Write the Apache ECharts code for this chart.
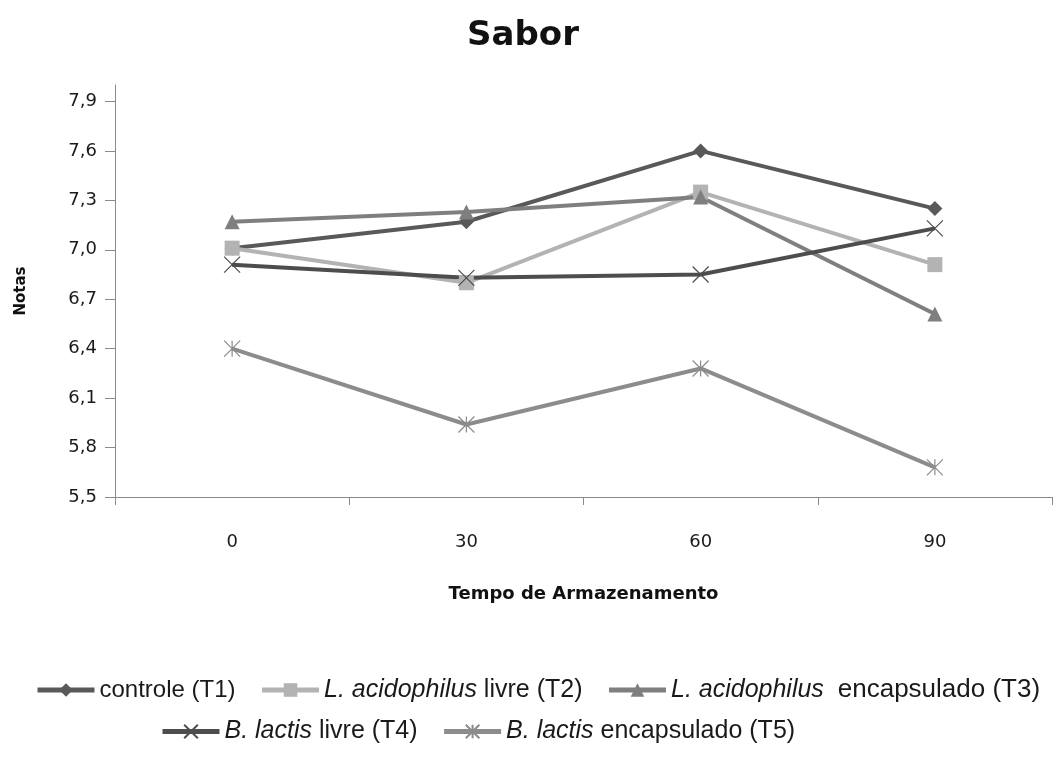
<!DOCTYPE html>
<html>
<head>
<meta charset="utf-8">
<script src="https://cdn.jsdelivr.net/npm/echarts@6/dist/echarts.min.js"></script>
<style>
  html, body { margin: 0; padding: 0; background: #ffffff; }
  #chart { width: 1058px; height: 758px; }
</style>
</head>
<body>
<div id="chart"></div>
<script>
// Storage time (days)
const categories = ['0', '30', '60', '90'];

// Mean flavour scores per treatment
const controleT1 = [7.01, 7.17, 7.60, 7.25];
const acidoLivreT2 = [7.01, 6.80, 7.35, 6.91];
const acidoEncapT3 = [7.17, 7.23, 7.32, 6.61];
const lactisLivreT4 = [6.91, 6.83, 6.85, 7.13];
const lactisEncapT5 = [6.40, 5.94, 6.28, 5.68];

// Y axis tick values
const yTicks = [5.5, 5.8, 6.1, 6.4, 6.7, 7.0, 7.3, 7.6, 7.9];

const seriesNames = ['T1', 'T2', 'T3', 'T4', 'T5'];
const legendText = {
  T1: '{c|controle (T1)}',
  T2: '{i|L. acidophilus} livre (T2)',
  T3: '{i|L. acidophilus}  {w|encapsulado (T3)}',
  T4: '{i|B. lactis} livre (T4)',
  T5: '{i|B. lactis} encapsulado (T5)'
};

const crossPath = 'path://M0,0L10,10M0,10L10,0';
const starPath = 'path://M5,0L5,10M0,0L10,10M0,10L10,0';

function lineSeries(name, data, color, symbol, size, extra) {
  return Object.assign({
    name: name,
    type: 'line',
    data: data,
    symbol: symbol,
    symbolSize: size,
    lineStyle: { color: color, width: 4 },
    itemStyle: { color: color },
    emphasis: { disabled: true },
    animation: false
  }, extra || {});
}

const legendFont = 'Liberation Sans, Arial, sans-serif';
const legendTextStyle = {
  fontFamily: legendFont,
  fontSize: 25,
  color: '#1a1a1a',
  rich: {
    i: { fontStyle: 'italic', fontFamily: legendFont, fontSize: 25, color: '#1a1a1a' },
    c: { fontFamily: legendFont, fontSize: 24, color: '#1a1a1a' },
    w: { fontFamily: legendFont, fontSize: 26, color: '#1a1a1a' }
  }
};

function legendRow(names, left, top) {
  return {
    data: names,
    left: left,
    top: top,
    padding: 0,
    itemGap: 24,
    itemWidth: 57,
    itemHeight: 17,
    selectedMode: false,
    lineStyle: { width: 5 },
    formatter: n => legendText[n],
    textStyle: legendTextStyle
  };
}

const chart = echarts.init(document.getElementById('chart'), null, { renderer: 'canvas' });

chart.setOption({
  backgroundColor: '#ffffff',
  title: {
    text: 'Sabor',
    left: 462,
    top: 14,
    textStyle: { fontFamily: 'DejaVu Sans', fontWeight: 'bold', fontSize: 34, color: '#111111' }
  },
  legend: [
    legendRow(seriesNames.slice(0, 3), 35, 677),
    legendRow(seriesNames.slice(3), 160, 719)
  ],
  grid: { left: 115, right: 6, top: 85, bottom: 261 },
  xAxis: {
    type: 'category',
    data: categories,
    boundaryGap: true,
    name: 'Tempo de Armazenamento',
    nameLocation: 'middle',
    nameGap: 88,
    nameTextStyle: { fontFamily: 'DejaVu Sans', fontWeight: 'bold', fontSize: 18, color: '#111111' },
    axisLine: { show: true, lineStyle: { color: '#8a8a8a', width: 1 } },
    axisTick: { show: true, length: 8, lineStyle: { color: '#8a8a8a' } },
    axisLabel: { margin: 36, fontFamily: 'DejaVu Sans', fontSize: 18, color: '#1a1a1a' },
    splitLine: { show: false }
  },
  yAxis: {
    type: 'value',
    min: 5.5,
    max: 8.0,
    name: 'Notas',
    nameLocation: 'middle',
    nameGap: 86,
    nameTextStyle: { fontFamily: 'DejaVu Sans', fontWeight: 'bold', fontSize: 15, color: '#111111' },
    axisLine: { show: true, lineStyle: { color: '#8a8a8a', width: 1 } },
    axisTick: { show: true, length: 10, lineStyle: { color: '#8a8a8a' }, customValues: yTicks },
    axisLabel: {
      margin: 18,
      fontFamily: 'DejaVu Sans',
      fontSize: 18,
      color: '#1a1a1a',
      customValues: yTicks,
      formatter: v => v.toFixed(1).replace('.', ',')
    },
    splitLine: { show: false }
  },
  series: [
    lineSeries('T1', controleT1, '#595959', 'diamond', 15),
    lineSeries('T2', acidoLivreT2, '#b3b3b3', 'rect', 15),
    lineSeries('T3', acidoEncapT3, '#7f7f7f', 'triangle', 15),
    lineSeries('T4', lactisLivreT4, '#4d4d4d', crossPath, 16,
      { itemStyle: { color: '#4d4d4d', borderColor: '#4d4d4d', borderWidth: 1.2 } }),
    lineSeries('T5', lactisEncapT5, '#8c8c8c', starPath, 16,
      { itemStyle: { color: '#8c8c8c', borderColor: '#8c8c8c', borderWidth: 1.2 } })
  ]
});
</script>
</body>
</html>
